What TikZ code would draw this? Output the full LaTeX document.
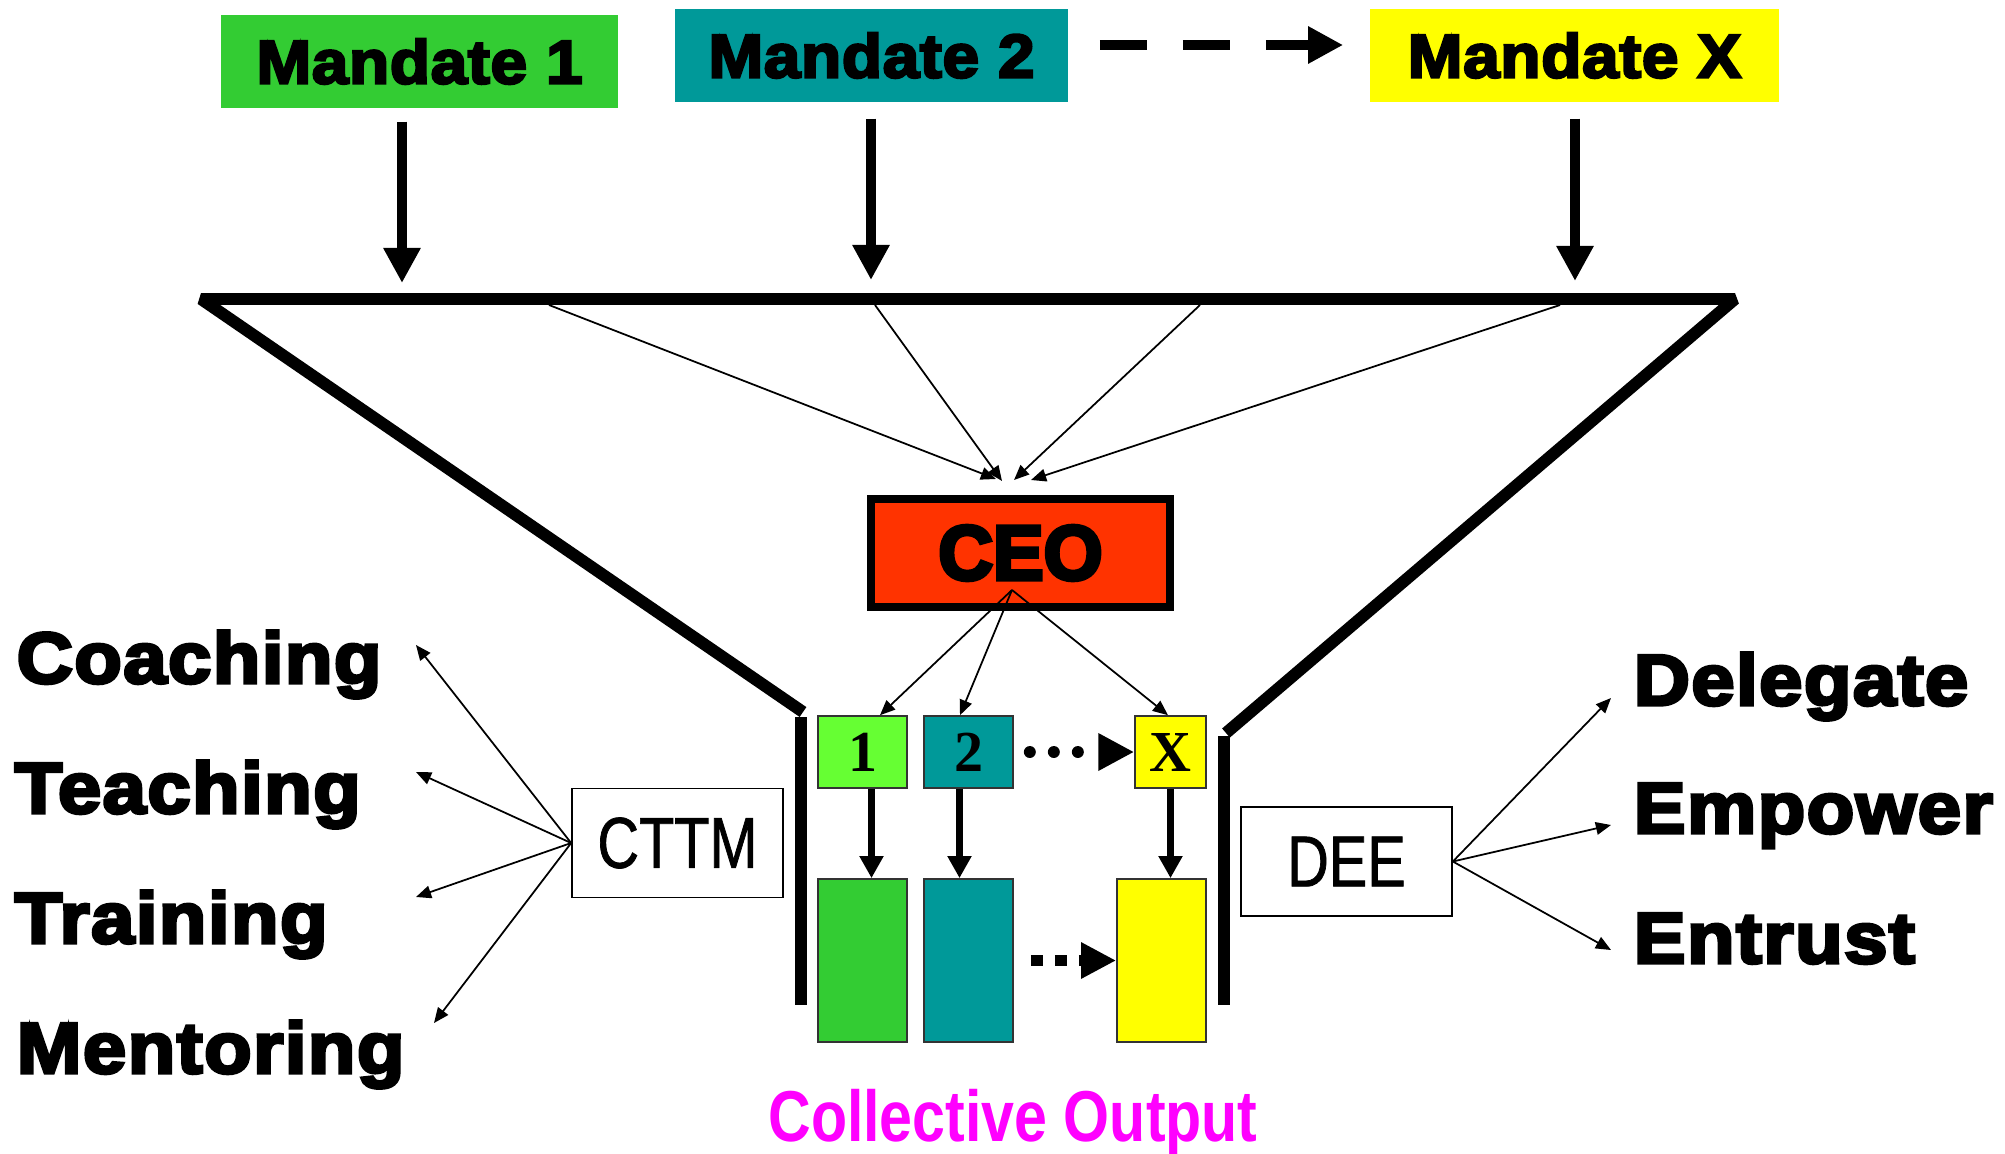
\documentclass[tikz,border=0pt]{standalone}
\usepackage{fontspec}
\usetikzlibrary{arrows.meta,calc}
\setmainfont{Liberation Sans}
\newfontfamily\heavyfont[FakeBold=4.5,FakeStretch=1.08,LetterSpace=2]{Liberation Sans Bold}
\newfontfamily\mandfont[FakeBold=4,FakeStretch=1.07,LetterSpace=1]{Liberation Sans Bold}
\newfontfamily\ceofont[FakeBold=5,FakeStretch=0.98]{Liberation Sans Bold}
\newfontfamily\narrowfont[FakeBold=1,FakeStretch=0.8]{Liberation Sans}
\newfontfamily\narrowbold[FakeStretch=0.82]{Liberation Sans Bold}
\newfontfamily\digitfont{Liberation Serif Bold}
\definecolor{mgreen}{HTML}{33CC33}
\definecolor{mteal}{HTML}{009999}
\definecolor{myellow}{HTML}{FFFF00}
\definecolor{lgreen}{HTML}{66FF33}
\definecolor{ceored}{HTML}{FF3300}
\definecolor{outmag}{HTML}{FF00FF}
\begin{document}
\begin{tikzpicture}[x=0.01cm,y=-0.01cm,
  mandate/.style={inner sep=0pt,minimum height=0.93cm,
    font=\mandfont\fontsize{17.5}{20}\selectfont},
  word/.style={inner sep=0pt,anchor=base west,
    font=\heavyfont\fontsize{20.5}{24}\selectfont},
  unitbox/.style={draw=black!80,line width=0.45pt,inner sep=0pt,
    minimum height=0.72cm,font=\digitfont\fontsize{16.5}{18}\selectfont},
  outbox/.style={draw=black!80,line width=0.45pt,inner sep=0pt,
    minimum width=0.89cm,minimum height=1.63cm},
  labelbox/.style={draw,line width=0.45pt,inner sep=0pt,fill=white,
    minimum width=2.11cm,minimum height=1.09cm,
    font=\narrowfont\fontsize{20.5}{24}\selectfont},
  funnel/.style={line width=3.4pt,line cap=butt},
  bigarrow/.style={line width=3.1pt,-{Triangle[length=10pt,width=10pt]}},
  midarrow/.style={line width=2pt,-{Triangle[length=6.3pt,width=6.5pt]}},
  thinarrow/.style={line width=0.5pt,-{Triangle[length=4.3pt,width=3.6pt]}}]
\useasboundingbox (0,0) rectangle (2005,1154);

% mandates
\node[mandate,fill=mgreen,minimum width=3.97cm] (m1) at (419.5,61.5) {Mandate 1};
\node[mandate,fill=mteal,minimum width=3.93cm] (m2) at (871.5,55.5) {Mandate 2};
\node[mandate,fill=myellow,minimum width=4.09cm] (mx) at (1574.5,55.5) {Mandate X};
\draw[bigarrow,dash pattern=on 13.4pt off 10.2pt]
  ($(m2.east)+(31,-10.5)$) -- ($(mx.west)+(-26,-10.5)$);

% funnel
\coordinate (bar1) at (402,283);
\coordinate (bar2) at (871,280);
\coordinate (barx) at (1575,281);
\draw[funnel,line join=bevel] (803,712) -- (201,299) -- (1735,299) -- (1226,733);
\draw[funnel] (801,717) -- (801,1005);
\draw[funnel] (1224,736) -- (1224,1005);
\draw[bigarrow,shorten <=0.13cm] (m1.south -| bar1) -- (bar1);
\draw[bigarrow,shorten <=0.16cm] (m2.south -| bar2) -- (bar2);
\draw[bigarrow,shorten <=0.16cm] (mx.south -| barx) -- (barx);

% inflows to the CEO
\coordinate (in1) at (549,305);
\coordinate (in2) at (875,305);
\coordinate (in3) at (1200,305);
\coordinate (in4) at (1560,305);
\coordinate (to1) at (996,479);
\coordinate (to2) at (1002,481);
\coordinate (to3) at (1014,480);
\coordinate (to4) at (1031,480);
\draw[thinarrow] (in1) -- (to1);
\draw[thinarrow] (in2) -- (to2);
\draw[thinarrow] (in3) -- (to3);
\draw[thinarrow] (in4) -- (to4);

% CEO
\node[draw,line width=2.3pt,fill=ceored,inner sep=0pt,minimum width=2.99cm,
  minimum height=1.08cm,font=\ceofont\fontsize{22}{24}\selectfont]
  (ceo) at (1020.5,553) {CEO};
\coordinate (hub) at (1012,590);

% units
\node[unitbox,fill=lgreen,minimum width=0.89cm] (b1) at (862.5,752) {1};
\node[unitbox,fill=mteal,minimum width=0.89cm] (b2) at (968.5,752) {2};
\node[unitbox,fill=myellow,minimum width=0.71cm] (bx) at (1170.5,752) {X};
\draw[thinarrow] (hub) -- ($(b1.north)+(17.5,0)$);
\draw[thinarrow] (hub) -- ($(b2.north)+(-8.5,0)$);
\draw[thinarrow] (hub) -- ($(bx.north)+(-2.5,0)$);
\draw[line width=3.4pt,line cap=round,dash pattern=on 0pt off 6.83pt,
  -{Triangle[length=10.2pt,width=10pt]},shorten <=0.16cm] (b2.east) -- (bx.west);

% outputs
\node[outbox,fill=mgreen] (c1) at (862.5,960.5) {};
\node[outbox,fill=mteal] (c2) at (968.5,960.5) {};
\node[outbox,fill=myellow] (cx) at (1161.5,960.5) {};
\draw[midarrow] ($(b1.south)+(9,0)$) -- ($(c1.north)+(9,0)$);
\draw[midarrow] ($(b2.south)+(-9,0)$) -- ($(c2.north)+(-9,0)$);
\draw[midarrow] (bx.south) -- (bx.south |- cx.north);
\draw[line width=3.4pt,dash pattern=on 3.41pt off 3.41pt,
  -{Triangle[length=10pt,width=9.7pt]},shorten <=0.17cm] (c2.east) -- (cx.west);

\node[inner sep=0pt,anchor=base,text=outmag,
  font=\narrowbold\fontsize{20.5}{24}\selectfont] (out) at (1013,1141) {Collective Output};

% left side
\node[labelbox] (cttm) at (677.5,843) {CTTM};
\node[word] (coach) at (16,683) {Coaching};
\node[word] (teach) at (14,813) {Teaching};
\node[word] (train) at (14,943) {Training};
\node[word] (mentor) at (16,1073) {Mentoring};
\coordinate (tc) at (416,645);
\coordinate (tt) at (416,772);
\coordinate (tr) at (416,897);
\coordinate (tm) at (434,1023);
\draw[thinarrow] (cttm.west) -- (tc);
\draw[thinarrow] (cttm.west) -- (tt);
\draw[thinarrow] (cttm.west) -- (tr);
\draw[thinarrow] (cttm.west) -- (tm);

% right side
\node[labelbox] (dee) at (1346.5,861.5) {DEE};
\node[word] (deleg) at (1633,705) {Delegate};
\node[word] (empow) at (1633,833) {Empower};
\node[word] (entr) at (1633,963) {Entrust};
\coordinate (td) at (1611,698);
\coordinate (te) at (1611,825);
\coordinate (tn) at (1611,950);
\draw[thinarrow] (dee.east) -- (td);
\draw[thinarrow] (dee.east) -- (te);
\draw[thinarrow] (dee.east) -- (tn);
\end{tikzpicture}
\end{document}
